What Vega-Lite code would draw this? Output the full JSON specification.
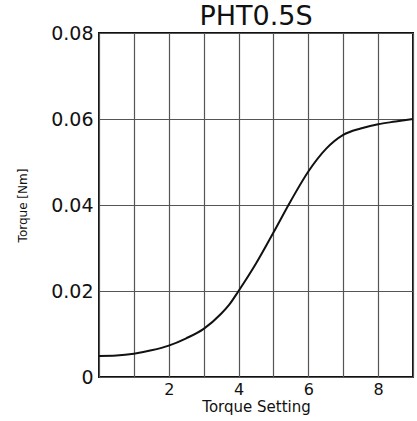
{
  "$schema": "https://vega.github.io/schema/vega-lite/v6.json",
  "autosize": "none",
  "padding": {"left": 99, "top": 33, "right": 4, "bottom": 44},
  "width": 314,
  "height": 344,
  "title": {"text": "PHT0.5S", "font": "DejaVu Sans", "fontSize": 27, "fontWeight": "normal", "color": "#111", "baseline": "alphabetic", "offset": -28, "anchor": "middle"},
  "config": {
    "view": {"stroke": "#111", "strokeWidth": 2},
    "axis": {"gridColor": "#555", "gridOpacity": 1, "gridWidth": 1.2, "domain": false, "ticks": false, "labelFont": "DejaVu Sans", "titleFont": "DejaVu Sans", "labelColor": "#111", "titleColor": "#111", "titleFontWeight": "normal"}
  },
  "data": {"values": [
    {"s": 0, "t": 0.0049},
    {"s": 0.5, "t": 0.0050},
    {"s": 1, "t": 0.0054},
    {"s": 1.5, "t": 0.0062},
    {"s": 2, "t": 0.0073},
    {"s": 2.5, "t": 0.0090},
    {"s": 3, "t": 0.0112},
    {"s": 3.5, "t": 0.0147},
    {"s": 3.75, "t": 0.0170},
    {"s": 4, "t": 0.0200},
    {"s": 4.5, "t": 0.0264},
    {"s": 5, "t": 0.0336},
    {"s": 5.5, "t": 0.0410},
    {"s": 6, "t": 0.0478},
    {"s": 6.5, "t": 0.0530},
    {"s": 7, "t": 0.0563},
    {"s": 7.5, "t": 0.0578},
    {"s": 8, "t": 0.0588},
    {"s": 8.5, "t": 0.0594},
    {"s": 9, "t": 0.0600}
  ]},
  "mark": {"type": "line", "color": "#111", "strokeWidth": 2, "interpolate": "monotone"},
  "encoding": {
    "x": {"field": "s", "type": "quantitative", "scale": {"domain": [0, 9], "nice": false, "zero": false},
      "axis": {"values": [0,1,2,3,4,5,6,7,8,9], "labelExpr": "datum.value % 2 == 0 && datum.value > 0 ? datum.label : ''", "labelFontSize": 16, "labelPadding": 4, "title": "Torque Setting", "titleFontSize": 15, "titlePadding": 2}},
    "y": {"field": "t", "type": "quantitative", "scale": {"domain": [0, 0.08], "nice": false},
      "axis": {"values": [0, 0.02, 0.04, 0.06, 0.08], "format": ".2~f", "labelFontSize": 19, "labelPadding": 6, "title": "Torque [Nm]", "titleFontSize": 12, "titlePadding": 21}}
  }
}
